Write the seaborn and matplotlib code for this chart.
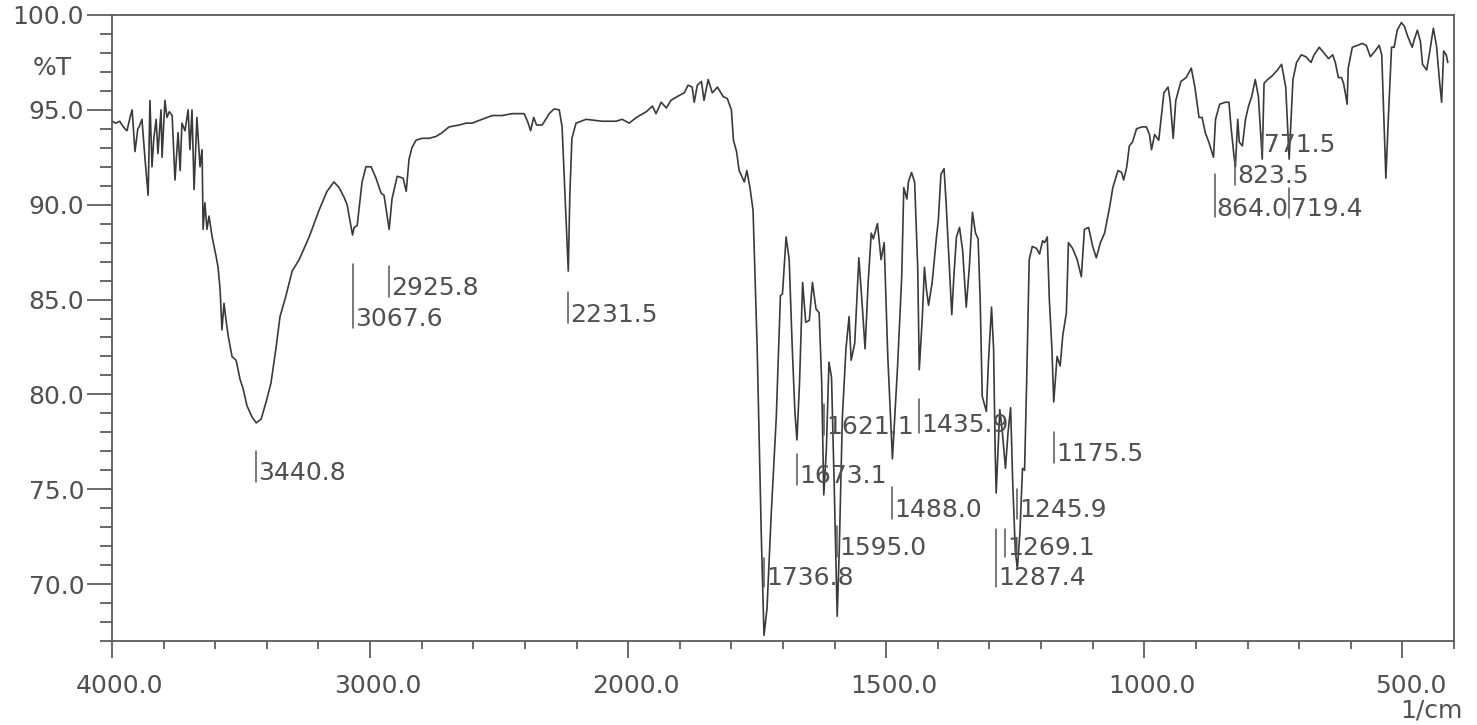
import numpy as np
import pandas as pd
import matplotlib
matplotlib.use('Agg')
import matplotlib.pyplot as plt
import seaborn as sns
from matplotlib.ticker import FixedLocator, FuncFormatter, NullFormatter
from matplotlib.transforms import ScaledTranslation

# IR spectrum (1/cm, %T)
wavenumber = [
    4000, 3985, 3970, 3961, 3950, 3942, 3930, 3922, 3911, 3900, 3895, 3884, 3872, 3860,
    3853, 3845, 3838, 3829, 3822, 3810, 3806, 3795, 3787, 3778, 3767, 3756, 3744, 3736,
    3729, 3717, 3705, 3698, 3690, 3682, 3671, 3659, 3651, 3647, 3640, 3632, 3624, 3612,
    3597, 3589, 3581, 3574, 3566, 3558, 3550, 3535, 3519, 3504, 3492, 3477, 3457, 3441,
    3422, 3403, 3384, 3364, 3349, 3326, 3302, 3275, 3236, 3198, 3167, 3140, 3120, 3101,
    3089, 3068, 3062, 3050, 3031, 3016, 2996, 2977, 2957, 2946, 2926, 2915, 2895, 2872,
    2860, 2849, 2838, 2822, 2798, 2771, 2744, 2721, 2694, 2655, 2628, 2605, 2566, 2527,
    2488, 2450, 2403, 2390, 2378, 2366, 2355, 2333, 2306, 2287, 2267, 2256, 2245, 2232,
    2226, 2218, 2202, 2163, 2101, 2047, 2023, 1998, 1984, 1965, 1953, 1946, 1936, 1926,
    1917, 1905, 1891, 1884, 1876, 1872, 1866, 1858, 1853, 1845, 1837, 1827, 1816, 1808,
    1800, 1796, 1790, 1785, 1775, 1770, 1764, 1758, 1750, 1742, 1736.8, 1731, 1723, 1713,
    1705, 1701, 1694, 1688, 1682, 1677, 1673, 1668, 1662, 1656, 1649, 1643, 1636, 1630,
    1625, 1621, 1616, 1611, 1606, 1601, 1595, 1591, 1585, 1578, 1572, 1568, 1561, 1553,
    1546, 1541, 1535, 1529, 1525, 1517, 1510, 1504, 1497, 1488, 1478, 1470, 1466, 1460,
    1457, 1451, 1445, 1439, 1436, 1430, 1426, 1422, 1418, 1411, 1403, 1399, 1394, 1388,
    1384, 1377, 1373, 1369, 1364, 1358, 1352, 1345, 1339, 1333, 1327, 1322, 1318, 1314,
    1306, 1302, 1296, 1292, 1289, 1287, 1280, 1275, 1269, 1264, 1259, 1255, 1250, 1246,
    1241, 1236, 1232, 1228, 1223, 1217, 1209, 1203, 1197, 1193, 1188, 1184, 1179, 1175.5,
    1169, 1163, 1158, 1151, 1147, 1139, 1130, 1122, 1116, 1108, 1100, 1093, 1085, 1077,
    1067, 1061, 1051, 1044, 1040, 1034, 1029, 1023, 1015, 1005, 996, 990, 986, 980,
    972, 962, 954, 950, 944, 939, 929, 919, 909, 902, 894, 888, 882, 875,
    866, 862, 854, 843, 836, 832, 826, 823.5, 819, 816, 810, 804, 798, 792,
    785, 779, 771.5, 768, 761, 752, 742, 734, 726, 719.4, 712, 705, 696, 687,
    677, 671, 661, 652, 643, 635, 630, 624, 618, 614, 610, 607, 605, 597,
    587, 578, 570, 562, 553, 545, 540, 536, 532, 527, 521, 516, 510, 502,
    496, 490, 481, 477, 471, 465, 461, 453, 448, 440, 434, 428, 424, 420,
    415, 412,
]
transmittance = [
    94.4, 94.3, 94.4, 94.2, 94.0, 93.9, 94.6, 95.0, 92.8, 94.0, 94.1, 94.5, 92.4, 90.5,
    95.5, 92.0, 93.5, 94.5, 92.7, 95.0, 92.5, 95.5, 94.6, 94.9, 94.7, 91.3, 93.8, 91.8,
    94.3, 93.9, 95.0, 92.9, 95.0, 90.8, 94.6, 92.0, 92.9, 88.7, 90.1, 88.7, 89.4, 88.3,
    87.3, 86.7, 85.5, 83.4, 84.8, 83.9, 83.1, 82.0, 81.8, 80.8, 80.3, 79.4, 78.8, 78.5,
    78.7, 79.6, 80.6, 82.5, 84.1, 85.2, 86.5, 87.1, 88.3, 89.7, 90.7, 91.2, 90.9, 90.4,
    90.0, 88.4, 88.8, 88.9, 91.2, 92.0, 92.0, 91.4, 90.6, 90.5, 88.7, 90.3, 91.5, 91.4,
    90.7, 92.4, 93.0, 93.4, 93.5, 93.5, 93.6, 93.8, 94.1, 94.2, 94.3, 94.3, 94.5, 94.7,
    94.7, 94.8, 94.8, 94.4, 93.9, 94.6, 94.2, 94.2, 94.8, 95.05, 95.0, 94.1, 90.6, 86.5,
    90.5, 93.5, 94.3, 94.5, 94.4, 94.4, 94.5, 94.3, 94.6, 94.9, 95.2, 94.8, 95.4, 95.1,
    95.5, 95.7, 95.9, 96.3, 96.2, 95.4, 96.3, 96.5, 95.5, 96.6, 95.9, 96.2, 95.7, 95.6,
    95.0, 93.4, 92.8, 91.8, 91.2, 91.8, 90.9, 89.7, 82.4, 72.5, 67.3, 68.7, 73.6, 78.8,
    85.2, 85.3, 88.3, 87.1, 82.4, 79.1, 77.6, 80.6, 85.9, 83.8, 83.9, 85.9, 84.5, 84.3,
    80.6, 74.7, 77.1, 81.7, 80.9, 75.4, 68.3, 71.8, 78.8, 82.4, 84.1, 81.8, 82.7, 87.2,
    84.5, 82.4, 85.9, 88.5, 88.2, 89.0, 87.1, 88.0, 82.0, 76.6, 81.5, 86.2, 90.9, 90.3,
    91.2, 91.7, 91.2, 86.7, 81.3, 84.1, 86.7, 85.5, 84.7, 85.9, 88.2, 89.2, 91.6, 91.9,
    90.1, 86.4, 84.2, 86.2, 88.3, 88.8, 87.6, 84.6, 86.7, 89.6, 88.5, 88.2, 85.0, 79.9,
    79.1, 81.7, 84.6, 82.4, 77.1, 74.8, 79.2, 78.0, 76.1, 78.0, 79.3, 75.4, 71.8, 70.8,
    72.7, 76.1, 76.0, 80.6, 87.1, 87.8, 87.7, 87.4, 88.1, 88.0, 88.3, 85.0, 82.4, 79.6,
    82.0, 81.5, 83.1, 84.3, 88.0, 87.7, 87.1, 86.2, 88.7, 88.8, 87.8, 87.2, 88.0, 88.5,
    89.9, 90.9, 91.8, 91.7, 91.3, 92.0, 93.1, 93.3, 94.0, 94.1, 94.1, 93.7, 92.9, 93.7,
    93.4, 95.9, 96.2, 95.5, 93.5, 95.5, 96.5, 96.7, 97.2, 96.2, 94.6, 94.6, 93.8, 93.3,
    92.5, 94.5, 95.3, 95.4, 95.4, 94.1, 92.5, 92.0, 94.5, 93.3, 93.1, 94.5, 95.2, 95.7,
    96.6, 95.7, 92.4, 96.4, 96.6, 96.8, 97.1, 97.4, 96.2, 92.4, 96.6, 97.5, 97.9, 97.8,
    97.5, 97.9, 98.3, 98.0, 97.7, 97.9, 97.5, 96.7, 96.7, 96.4, 95.8, 95.3, 97.2, 98.3,
    98.4, 98.5, 98.4, 97.8, 98.1, 98.4, 97.9, 94.7, 91.4, 94.7, 98.3, 98.3, 99.2, 99.6,
    99.4, 98.9, 98.3, 98.7, 99.2, 98.6, 97.4, 97.1, 97.9, 99.3, 98.4, 96.5, 95.4, 98.1,
    97.9, 97.5,
]

# picked peaks
peaks = [3440.8, 3067.6, 2925.8, 2231.5, 1736.8, 1673.1, 1621.1, 1595.0, 1488.0,
         1435.9, 1287.4, 1269.1, 1245.9, 1175.5, 864.0, 823.5, 771.5, 719.4]

# where the peak tags sit (text centre and top of the marker, in %T)
tag_y = [75.95, 84.05, 85.7, 84.3, 70.4, 75.8, 78.4, 72.0, 74.0,
         78.5, 70.4, 72.0, 74.0, 76.95, 89.9, 91.6, 93.25, 89.85]
tag_top = [77.0, 86.85, 86.75, 85.4, 71.4, 76.85, 79.5, 73.05, 75.1,
           79.75, 72.9, 72.9, 75.0, 78.0, 91.6, 92.5, 93.8, 90.9]

sns.set_style('white')
plt.rcParams['font.family'] = ['DejaVu Sans']

grey = '#505050'


# spectrometer chart: 4000-2000 at half the scale of 2000-400
def fwd(w):
    w = np.asarray(w, dtype=float)
    return np.where(w > 2000, 2000 + (w - 2000) / 2, w)


def inv(u):
    u = np.asarray(u, dtype=float)
    return np.where(u > 2000, 2000 + (u - 2000) * 2, u)


fig = plt.figure(figsize=(14.77, 7.25), dpi=100)
ax = fig.add_axes([112 / 1477, 84 / 725, 1342 / 1477, 626 / 725])

df = pd.DataFrame({'wavenumber': wavenumber, 'T': transmittance})
sns.lineplot(data=df, x='wavenumber', y='T', ax=ax, color='#3a3a3a', lw=1.2,
             estimator=None, sort=False)

ax.set_xscale('function', functions=(fwd, inv))
ax.set_xlim(4000, 400)
ax.set_ylim(67, 100)
ax.set_xlabel('')
ax.set_ylabel('')

ax.xaxis.set_major_locator(FixedLocator([4000, 3000, 2000, 1500, 1000, 500]))
ax.xaxis.set_minor_locator(FixedLocator(
    [3800, 3600, 3400, 3200, 2800, 2600, 2400, 2200, 1900, 1800, 1700, 1600,
     1400, 1300, 1200, 1100, 900, 800, 700, 600, 400]))
ax.xaxis.set_major_formatter(FuncFormatter(lambda v, p: f'{v:.1f}'))
ax.xaxis.set_minor_formatter(NullFormatter())
ax.yaxis.set_major_locator(FixedLocator([70, 75, 80, 85, 90, 95, 100]))
ax.yaxis.set_minor_locator(FixedLocator([v for v in range(67, 100) if v % 5]))
ax.yaxis.set_major_formatter(FuncFormatter(lambda v, p: f'{v:.1f}'))

ax.tick_params(axis='x', which='major', bottom=True, length=12, width=1.2,
               pad=12, labelsize=18, color=grey, labelcolor=grey)
ax.tick_params(axis='x', which='minor', bottom=True, length=6, width=1.2, color=grey)
ax.tick_params(axis='y', which='major', left=True, length=18, width=1.2,
               pad=2, labelsize=18, color=grey, labelcolor=grey)
ax.tick_params(axis='y', which='minor', left=True, length=8.5, width=1.2, color=grey)

shift = ScaledTranslation(8 / 100, 0, fig.dpi_scale_trans)
for lab in ax.get_xticklabels():
    lab.set_transform(lab.get_transform() + shift)

for s in ax.spines.values():
    s.set_color('#5a5a5a')
    s.set_linewidth(1.3)

for w, ty, top in zip(peaks, tag_y, tag_top):
    ax.plot([w, w], [top, ty - 0.55], color='#555555', lw=1.1)
    ax.annotate(f'{w:.1f}', (w, ty - 0.47), xytext=(1.5, 0), textcoords='offset points',
                ha='left', va='baseline', fontsize=18, color=grey)

fig.text(52 / 1477, 1 - 75 / 725, '%T', ha='center', va='baseline', fontsize=18, color=grey)
fig.text(1431 / 1477, 1 - 717 / 725, '1/cm', ha='center', va='baseline', fontsize=18, color=grey)

fig.savefig('out.png', dpi=100)
